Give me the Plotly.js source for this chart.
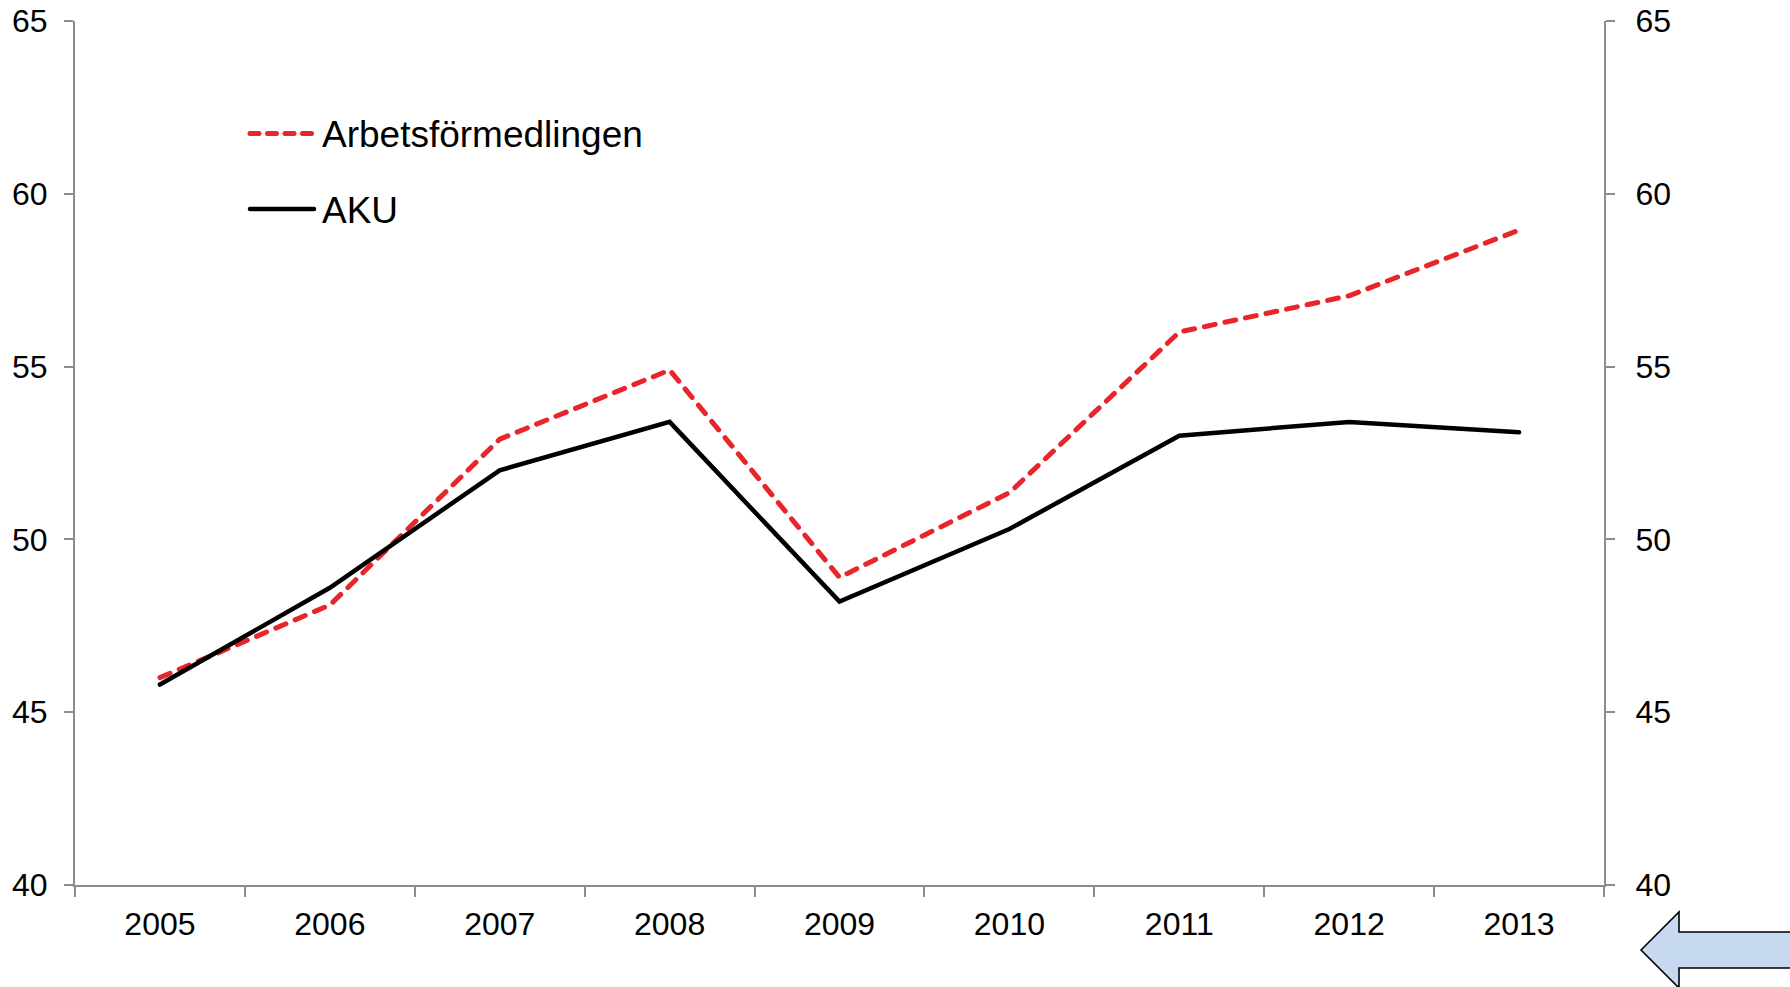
<!DOCTYPE html>
<html>
<head>
<meta charset="utf-8">
<script src="https://cdn.plot.ly/plotly-3.0.1.min.js"></script>
<style>
  html, body { margin: 0; padding: 0; background: #ffffff; }
  #chart { width: 1790px; height: 987px; }
  /* rounded dash ends like the original */
  #chart .js-line, #chart .shapelayer path { stroke-linecap: round; }
</style>
</head>
<body>
<div id="chart"></div>
<script>
  const years = ["2005", "2006", "2007", "2008", "2009", "2010", "2011", "2012", "2013"];
  const arbetsformedlingen = [46.0, 48.1, 52.9, 54.9, 48.9, 51.35, 56.0, 57.05, 58.95];
  const aku = [45.8, 48.6, 52.0, 53.4, 48.2, 50.3, 53.0, 53.4, 53.1];
  const yTicks = [40, 45, 50, 55, 60, 65];

  const series = [
    { name: "Arbetsförmedlingen", values: arbetsformedlingen, color: "#e8252a", width: 5, dash: "11px,10px", legendDash: "9px,8.5px" },
    { name: "AKU", values: aku, color: "#000000", width: 4.5, dash: "solid", legendDash: "solid" }
  ];

  // plot area in pixels, used to turn the decorations into paper coords
  const W = 1790, H = 987;
  const M = { l: 75, r: 186, t: 21, b: 102 };
  const pw = W - M.l - M.r;
  const ph = H - M.t - M.b;
  const px = (x) => (x - M.l) / pw;
  const py = (y) => 1 - (y - M.t) / ph;

  const axisGrey = "#8c8c8c";
  const font = { family: "Liberation Sans, Arial, sans-serif", color: "#000000" };

  const traces = series.map((s) => ({
    type: "scatter",
    mode: "lines",
    name: s.name,
    x: years,
    y: s.values,
    showlegend: false,
    hoverinfo: "skip",
    line: { color: s.color, width: s.width, dash: s.dash }
  }));

  // invisible copy so the right axis is drawn
  traces.push({
    type: "scatter",
    mode: "lines",
    x: years,
    y: aku,
    yaxis: "y2",
    showlegend: false,
    hoverinfo: "skip",
    line: { color: "rgba(0,0,0,0)", width: 0 }
  });

  const shapes = [];
  const annotations = [];
  const legendRows = [133.5, 209];
  series.forEach((s, i) => {
    shapes.push({
      type: "line",
      xref: "paper", yref: "paper",
      x0: px(250), x1: px(314),
      y0: py(legendRows[i]), y1: py(legendRows[i]),
      line: { color: s.color, width: s.width, dash: s.legendDash }
    });
    annotations.push({
      xref: "paper", yref: "paper",
      x: px(320), y: py(legendRows[i] + 1),
      xanchor: "left", yanchor: "middle",
      showarrow: false,
      text: s.name,
      font: { ...font, size: 37 }
    });
  });

  // blue "back" arrow in the bottom right corner
  const arrow = [
    [1641, 950], [1679, 912], [1679, 932], [1800, 932],
    [1800, 968], [1679, 968], [1679, 988]
  ];
  shapes.push({
    type: "path",
    xref: "paper", yref: "paper",
    path: "M" + arrow.map(([x, y]) => px(x) + "," + py(y)).join(" L") + " Z",
    fillcolor: "#c6d9f1",
    line: { color: "#000000", width: 1.6 },
    layer: "above"
  });

  const yAxisBase = {
    range: [40, 65],
    tickvals: yTicks,
    ticks: "outside",
    ticklen: 9,
    tickwidth: 2,
    tickcolor: axisGrey,
    showline: true,
    linecolor: axisGrey,
    linewidth: 2,
    showgrid: false,
    zeroline: false,
    fixedrange: true,
    tickfont: { ...font, size: 32 }
  };

  const layout = {
    width: W,
    height: H,
    margin: M,
    paper_bgcolor: "#ffffff",
    plot_bgcolor: "#ffffff",
    font: font,
    showlegend: false,
    xaxis: {
      type: "category",
      range: [-0.5, years.length - 0.5],
      tickson: "boundaries",
      ticks: "outside",
      ticklen: 10,
      tickwidth: 2,
      tickcolor: axisGrey,
      showline: true,
      linecolor: axisGrey,
      linewidth: 2,
      showgrid: false,
      zeroline: false,
      ticklabelstandoff: 10,
      tickfont: { ...font, size: 32 }
    },
    yaxis: { ...yAxisBase, side: "left", ticklabelstandoff: 10 },
    yaxis2: { ...yAxisBase, side: "right", overlaying: "y", ticklabelstandoff: 14 },
    shapes: shapes,
    annotations: annotations
  };

  Plotly.newPlot("chart", traces, layout, { displayModeBar: false, staticPlot: true });
</script>
</body>
</html>
